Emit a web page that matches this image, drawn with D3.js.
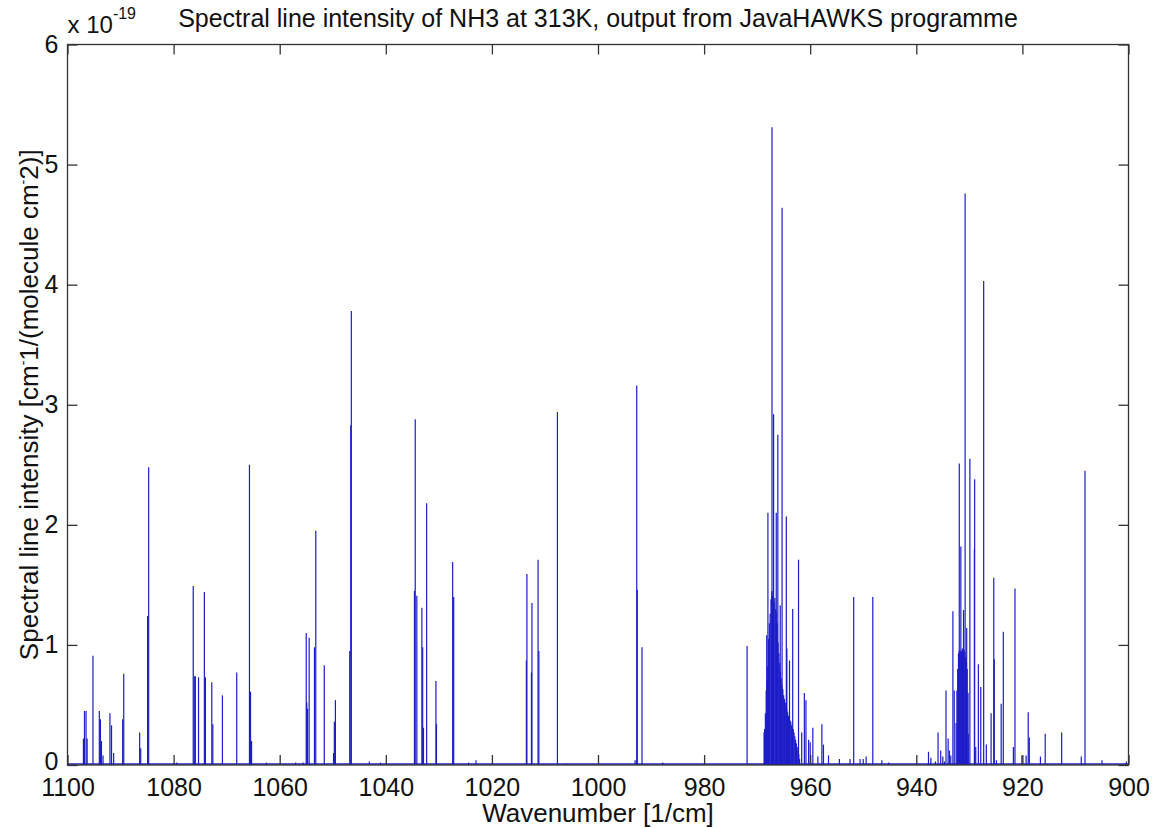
<!DOCTYPE html>
<html>
<head>
<meta charset="utf-8">
<script src="https://cdn.jsdelivr.net/npm/d3@7"></script>
<style>
  body { margin: 0; background: #fff; }
  text { font-family: "Liberation Sans", Arial, sans-serif; }
</style>
</head>
<body>
<script>
// ---- data (intensity in units of 1e-19 cm-1/(molecule cm-2)) ----
// isolated lines, [wavenumber, intensity]
const linesHigh = [
  [1097.0,0.22],[1096.8,0.45],[1096.5,0.45],[1096.3,0.22],[1095.2,0.91],
  [1094.0,0.45],[1093.8,0.38],[1093.6,0.20],[1093.3,0.08],
  [1092.0,0.43],[1091.7,0.33],[1091.3,0.10],[1089.6,0.38],[1089.4,0.76],
  [1086.4,0.27],[1086.2,0.14],[1084.9,1.24],[1084.7,2.48],[1079.4,0.02],
  [1076.3,1.49],[1076.1,0.74],[1075.9,0.74],[1075.3,0.73],[1074.2,1.44],[1074.0,0.73],
  [1072.8,0.69],[1072.6,0.34],[1070.8,0.58],[1068.1,0.77],
  [1065.7,2.50],[1065.5,0.61],[1065.3,0.20],[1062.5,0.02],
  [1057.0,0.02],[1056.3,0.01],[1055.6,0.02],
  [1055.0,1.10],[1054.9,0.52],[1054.75,0.47],[1054.45,1.06],
  [1053.45,0.98],[1053.2,1.95],[1051.6,0.83],
  [1049.85,0.10],[1049.7,0.36],[1049.5,0.54],
  [1046.8,0.95],[1046.6,2.83],[1046.5,3.78],[1043.1,0.03],[1041.0,0.02],
  [1034.6,1.45],[1034.45,2.88],[1034.15,1.41],[1033.2,1.31],[1033.05,0.98],[1032.9,0.31],
  [1032.3,2.18],[1030.55,0.70],[1030.45,0.34],[1027.4,1.69],[1027.2,1.40],
  [1024.4,0.02],[1023.0,0.04]
]
const linesMid = [
  [1013.5,0.87],[1013.4,1.59],[1012.55,0.77],[1012.45,1.35],
  [1011.3,1.71],[1011.15,0.95],[1007.65,2.94],[1006.0,0.01],
  [993.0,0.04],[992.7,3.16],[992.6,1.46],[991.7,0.98],[987.8,0.02],
  [971.9,0.99]
]
const linesQ = [
  [968.7,0.27],[968.2,1.08],[967.97,2.10],[967.2,5.31],[966.9,2.92],[966.4,2.10],
  [966.1,2.75],[965.65,1.33],[965.3,4.64],[964.5,2.07],[964.4,0.97],[963.9,0.87],
  [963.3,1.30],[962.2,1.71],[961.6,0.27],[961.1,0.60],[960.8,0.54],[960.3,0.21],
  [960.0,0.19],[959.5,0.31],[958.55,0.07],[957.8,0.34],[957.5,0.17],[956.55,0.08],
  [954.5,0.05],[952.5,0.05],[951.8,1.40],[950.6,0.05],[950.0,0.05],[949.45,0.07],
  [948.2,1.40],[946.5,0.04],[945.2,0.02]
]
// the packed lines under the Q branch
const denseQ = [
  [968.60,0.30],[968.45,0.43],[968.30,0.62],[968.15,0.70],[968.00,0.82],[967.85,1.05],
  [967.70,1.18],[967.55,1.26],[967.40,1.38],[967.25,1.45],[967.10,1.41],[966.95,1.44],
  [966.80,1.36],[966.65,1.39],[966.50,1.30],[966.35,1.27],[966.20,1.18],[966.05,1.02],
  [965.90,0.93],[965.75,0.85],[965.60,0.78],[965.45,0.72],[965.30,0.66],[965.15,0.63],
  [965.00,0.58],[964.85,0.55],[964.70,0.52],[964.55,0.49],[964.40,0.46],[964.25,0.44],
  [964.10,0.41],[963.95,0.40],[963.80,0.37],[963.65,0.36],[963.50,0.33],[963.35,0.31],
  [963.20,0.30],[963.05,0.27],[962.90,0.24],[962.75,0.21],[962.60,0.18],[962.45,0.15],
  [962.30,0.12],[962.15,0.09],[962.00,0.05]
]
const linesLow = [
  [937.7,0.11],[937.25,0.06],[936.4,0.03],[935.9,0.27],[935.4,0.12],[935.0,0.07],
  [934.7,0.03],[934.4,0.62],[934.0,0.22],[933.75,0.12],[933.5,0.08],[933.1,1.28],[932.85,0.62],
  [931.9,2.51],[931.6,1.82],[931.1,1.29],[930.8,4.76],[930.5,1.14],[930.2,0.26],
  [929.9,2.55],[929.05,1.80],[929.0,2.38],[928.8,0.15],[928.3,0.84],[927.85,0.65],
  [927.3,4.03],[926.8,0.17],[925.9,0.43],[925.4,1.56],[925.3,0.88],[924.9,0.04],
  [924.0,0.51],[923.6,1.11],[921.7,0.15],[921.4,1.47],[920.1,0.08],[919.3,0.08],
  [918.9,0.44],[918.7,0.23],[916.6,0.07],[915.7,0.26],[912.6,0.27],[908.9,0.07],
  [908.2,2.45],[905.0,0.04],[900.4,0.03]
]
const denseLow = [
  [932.50,0.35],[932.35,0.62],[932.20,0.80],[932.05,0.93],[931.90,0.95],[931.75,0.96],
  [931.60,0.94],[931.45,0.95],[931.30,0.97],[931.15,0.93],[931.00,0.96],[930.85,0.94],
  [930.70,0.90],[930.55,0.86],[930.40,0.80],[930.25,0.60]
]
const xTicks = [1100,1080,1060,1040,1020,1000,980,960,940,920,900]
const yTicks = [0,1,2,3,4,5,6]

const allLines = linesHigh.concat(linesMid, linesQ, denseQ, linesLow, denseLow)

// ---- layout ----
const width = 1156, height = 828
const plot = {left: 67.5, right: 1128.5, top: 44.5, bottom: 765}

const svg = d3.select('body').append('svg')
    .attr('width', width)
    .attr('height', height)

const x = d3.scaleLinear().domain([1100, 900]).range([plot.left, plot.right])
const y = d3.scaleLinear().domain([0, 6]).range([plot.bottom, plot.top])

// stems
svg.append('g').selectAll('line')
    .data(allLines)
    .join('line')
    .attr('x1', d => x(d[0]))
    .attr('x2', d => x(d[0]))
    .attr('y1', y(0))
    .attr('y2', d => y(d[1]))
    .attr('stroke', '#1c1cc8')
    .attr('stroke-width', 1.2)

// baseline of the stem plot
svg.append('line')
    .attr('x1', plot.left).attr('x2', plot.right)
    .attr('y1', y(0) - 1).attr('y2', y(0) - 1)
    .attr('stroke', '#2020c0')
    .attr('stroke-width', 1.5)

// axes, ticks pointing inward on all four sides
const axisColor = '#333'
function styleAxis(g) {
    g.select('.domain').remove()
    g.selectAll('.tick line').attr('stroke', axisColor).attr('stroke-width', 1.3)
    g.selectAll('.tick text').attr('fill', '#111').style('font-size', '25px')
}

svg.append('g')
    .attr('transform', 'translate(0,' + plot.bottom + ')')
    .call(d3.axisBottom(x).tickValues(xTicks).tickSizeInner(-10).tickSizeOuter(0).tickPadding(13).tickFormat(d3.format('d')))
    .call(styleAxis)

svg.append('g')
    .attr('transform', 'translate(0,' + plot.top + ')')
    .call(d3.axisTop(x).tickValues(xTicks).tickSizeInner(-10).tickSizeOuter(0).tickFormat(''))
    .call(styleAxis)

const yAxis = svg.append('g')
    .attr('transform', 'translate(' + plot.left + ',0)')
    .call(d3.axisLeft(y).tickValues(yTicks).tickSizeInner(-10).tickSizeOuter(0).tickPadding(9).tickFormat(d3.format('d')))
    .call(styleAxis)
// lift the "0" a little so it does not sit on the "1100"
yAxis.selectAll('.tick text').filter(d => d === 0).attr('y', -4)

svg.append('g')
    .attr('transform', 'translate(' + plot.right + ',0)')
    .call(d3.axisRight(y).tickValues(yTicks).tickSizeInner(-10).tickSizeOuter(0).tickFormat(''))
    .call(styleAxis)

svg.append('rect')
    .attr('x', plot.left).attr('y', plot.top)
    .attr('width', plot.right - plot.left).attr('height', plot.bottom - plot.top)
    .attr('fill', 'none')
    .attr('stroke', axisColor)
    .attr('stroke-width', 1.3)

// exponent label
const expo = svg.append('text')
    .attr('x', plot.left)
    .attr('y', 33)
    .attr('fill', '#111')
    .style('font-size', '24px')
expo.append('tspan').text('x 10')
expo.append('tspan').attr('dy', -14).style('font-size', '16px').text('-19')

// title
svg.append('text')
    .attr('x', (plot.left + plot.right) / 2)
    .attr('y', 27)
    .attr('text-anchor', 'middle')
    .attr('fill', '#111')
    .style('font-size', '25px')
    .text('Spectral line intensity of NH3 at 313K, output from JavaHAWKS programme')

// axis labels
svg.append('text')
    .attr('x', (plot.left + plot.right) / 2)
    .attr('y', 822)
    .attr('text-anchor', 'middle')
    .attr('fill', '#111')
    .style('font-size', '26px')
    .text('Wavenumber [1/cm]')

const yLab = svg.append('text')
    .attr('text-anchor', 'middle')
    .attr('transform', 'translate(38,' + ((plot.top + plot.bottom) / 2) + ')rotate(-90)')
    .attr('fill', '#111')
    .style('font-size', '26px')
yLab.append('tspan').text('Spectral line intensity [cm')
yLab.append('tspan').attr('dy', -10).style('font-size', '14px').text('-')
yLab.append('tspan').attr('dy', 10).text('1/(molecule cm')
yLab.append('tspan').attr('dy', -10).style('font-size', '14px').text('-')
yLab.append('tspan').attr('dy', 10).text('2)]')
</script>
</body>
</html>
